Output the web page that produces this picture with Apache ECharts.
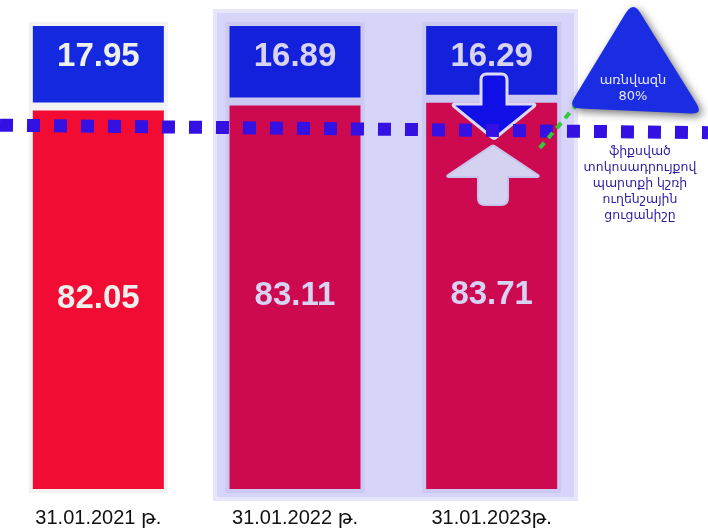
<!DOCTYPE html>
<html>
<head>
<meta charset="utf-8">
<script src="https://cdn.jsdelivr.net/npm/echarts@6/dist/echarts.min.js"></script>
<style>
  html, body { margin: 0; padding: 0; background: #fff; }
  #chart { width: 708px; height: 528px; }
</style>
</head>
<body>
<div id="chart"></div>
<script>
  // dates of the debt structure snapshots
  const categories = ['31.01.2021 թ.', '31.01.2022 թ.', '31.01.2023թ.'];
  // fixed rate share, %
  const fixedShare = [82.05, 83.11, 83.71];
  // floating rate share, %
  const floatShare = [17.95, 16.89, 16.29];
  // benchmark line (drawn level at left and right ends)
  const benchmarkX = [0, 1];
  const benchmarkY = [78.0, 76.4];

  const redColors = ['#f20c33', '#cd0a50', '#cd0a50'];
  const blueColors = ['#1428e0', '#1320dc', '#1520dd'];
  const frameColors = ['#f2f2f2', '#cbc8f2', '#cbc8f2'];
  const labelColors = ['#eef0ee', '#d6d4f2', '#d6d4f2'];
  const numFont = '"Liberation Sans", Arial, sans-serif';

  // polygon with softened corners (r = corner radius per vertex)
  function rounded(pts, r) {
    const out = [];
    const n = pts.length;
    for (let i = 0; i < n; i++) {
      const p = pts[i], a = pts[(i - 1 + n) % n], b = pts[(i + 1) % n];
      const rr = Array.isArray(r) ? r[i] : r;
      if (!rr) { out.push(p); continue; }
      const da = Math.hypot(a[0] - p[0], a[1] - p[1]);
      const db = Math.hypot(b[0] - p[0], b[1] - p[1]);
      const s = [p[0] + (a[0] - p[0]) * rr / da, p[1] + (a[1] - p[1]) * rr / da];
      const e = [p[0] + (b[0] - p[0]) * rr / db, p[1] + (b[1] - p[1]) * rr / db];
      for (let k = 0; k <= 6; k++) {
        const t = k / 6;
        out.push([
          (1 - t) * (1 - t) * s[0] + 2 * (1 - t) * t * p[0] + t * t * e[0],
          (1 - t) * (1 - t) * s[1] + 2 * (1 - t) * t * p[1] + t * t * e[1]
        ]);
      }
    }
    return out;
  }

  const downArrow = rounded([[481, 74], [507, 74], [507, 104], [537, 104], [494, 139], [451, 104], [481, 104]], [6, 6, 0, 5, 2, 5, 0]);
  const upArrow = rounded([[493, 145], [541, 177], [508, 177], [508, 205], [478, 205], [478, 177], [445, 177]], [2, 5, 0, 7, 7, 0, 5]);
  const triangle = rounded([[633, 1], [703, 114], [568, 108]], [14, 12, 12]);

  const chart = echarts.init(document.getElementById('chart'));

  chart.setOption({
    animation: false,
    backgroundColor: '#ffffff',
    grid: [
      { left: 0, right: 118, top: 22, bottom: 35 },
      { left: 0, right: 0, top: 22, bottom: 37 }
    ],
    xAxis: [
      {
        type: 'category',
        data: categories,
        gridIndex: 0,
        axisLine: { show: false },
        axisTick: { show: false },
        axisLabel: {
          margin: 15,
          color: '#111',
          fontSize: 20,
          fontFamily: '"Liberation Sans", "DejaVu Sans", sans-serif'
        }
      },
      { type: 'value', gridIndex: 1, min: 0, max: 1, show: false }
    ],
    yAxis: [
      { type: 'value', gridIndex: 0, min: 0, max: 100, show: false },
      { type: 'value', gridIndex: 1, min: 0, max: 100, show: false }
    ],
    graphic: [
      {
        type: 'rect',
        z: 0,
        shape: { x: 215, y: 11, width: 361, height: 488 },
        style: { fill: '#d6d4f8', stroke: '#e6e5fb', lineWidth: 4 }
      },
      {
        type: 'polygon',
        z: 4,
        shape: { points: downArrow },
        style: { fill: '#1010e6', stroke: '#dcdaf5', lineWidth: 3 }
      },
      {
        type: 'polygon',
        z: 4,
        shape: { points: upArrow },
        style: { fill: '#d4d2f0', stroke: '#c6c4ec', lineWidth: 2 }
      },
      {
        type: 'line',
        z: 6,
        shape: { x1: 578, y1: 103, x2: 539, y2: 149 },
        style: { stroke: '#34c83a', lineWidth: 4, lineDash: [7, 6] }
      },
      {
        type: 'polygon',
        z: 10,
        shape: { points: triangle },
        style: {
          fill: '#1a2de2',
          shadowBlur: 8,
          shadowColor: 'rgba(0,0,0,0.55)',
          shadowOffsetX: 3,
          shadowOffsetY: 3
        }
      },
      {
        type: 'text',
        z: 11,
        x: 633,
        y: 89,
        style: {
          text: 'առնվազն\n80%',
          fill: '#e8e8ff',
          fontSize: 13,
          lineHeight: 16,
          align: 'center',
          verticalAlign: 'middle',
          fontFamily: '"DejaVu Sans", "Noto Sans", sans-serif'
        }
      },
      {
        type: 'text',
        z: 11,
        x: 640,
        y: 184,
        style: {
          text: 'ֆիքսված\nտոկոսադրույքով\nպարտքի կշռի\nուղենշային\nցուցանիշը',
          fill: '#2b1ca3',
          fontSize: 12.5,
          lineHeight: 16,
          align: 'center',
          verticalAlign: 'middle',
          fontFamily: '"DejaVu Sans", "Noto Sans", sans-serif'
        }
      }
    ],
    series: [
      {
        name: 'fixed',
        type: 'bar',
        stack: 'total',
        barWidth: 139,
        z: 2,
        data: fixedShare.map((v, i) => ({
          value: v,
          itemStyle: { color: redColors[i], borderColor: frameColors[i] },
          label: { color: labelColors[i] }
        })),
        itemStyle: { borderWidth: 4 },
        label: {
          show: true,
          position: 'inside',
          offset: [0, -1],
          fontSize: 33,
          fontWeight: 'bold',
          fontFamily: numFont,
          formatter: p => p.value.toFixed(2)
        }
      },
      {
        name: 'floating',
        type: 'bar',
        stack: 'total',
        barWidth: 139,
        z: 2,
        data: floatShare.map((v, i) => ({
          value: v,
          itemStyle: { color: blueColors[i], borderColor: frameColors[i] },
          label: { color: labelColors[i] }
        })),
        itemStyle: { borderWidth: 4 },
        label: {
          show: true,
          position: 'insideTop',
          distance: 18,
          fontSize: 33,
          fontWeight: 'bold',
          fontFamily: numFont,
          formatter: p => p.value.toFixed(2)
        }
      },
      {
        name: 'benchmark',
        type: 'line',
        xAxisIndex: 1,
        yAxisIndex: 1,
        z: 5,
        symbol: 'none',
        silent: true,
        data: benchmarkX.map((x, i) => [x, benchmarkY[i]]),
        lineStyle: { color: '#3510e2', width: 13, type: [13, 14], cap: 'butt' }
      }
    ]
  });
</script>
</body>
</html>
